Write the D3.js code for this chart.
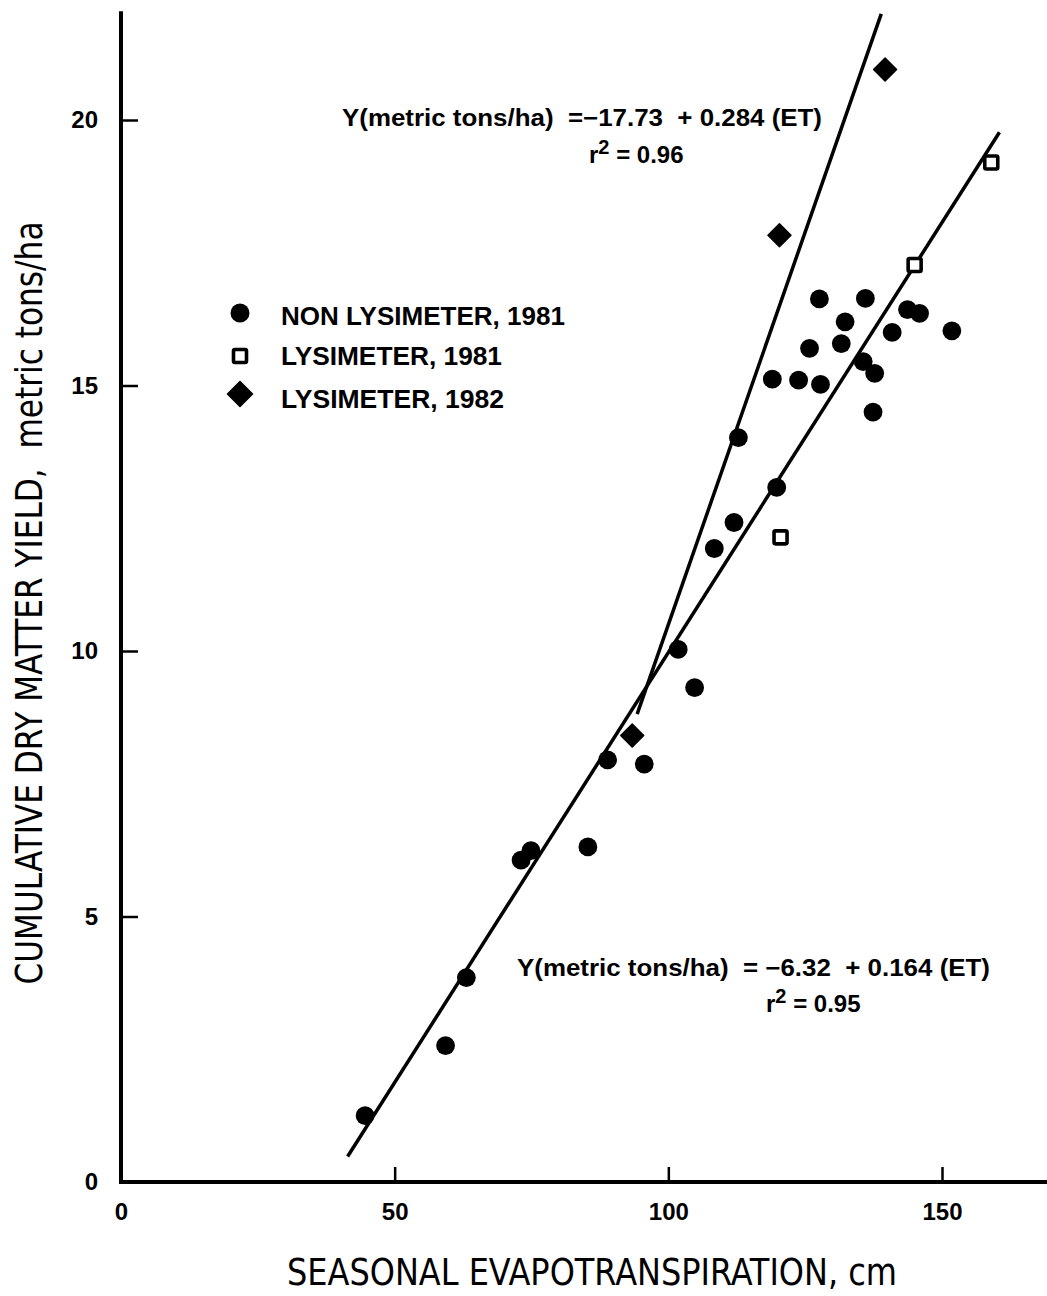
<!DOCTYPE html>
<html>
<head>
<meta charset="utf-8">
<script src="https://cdn.jsdelivr.net/npm/d3@7"></script>
<style>
  body { margin: 0; background: #fff; }
  svg { display: block; }
  text { font-family: "Liberation Sans", Arial, sans-serif; fill: #000; }
</style>
</head>
<body>
<script>
// non lysimeter, 1981 (filled circles)
const nonLysET    = [44.6, 59.3, 63.1, 73.1, 74.9, 85.3, 88.9, 95.6, 101.8, 104.8, 108.4, 112.0, 112.8, 119.8, 119.0, 123.8, 125.8, 127.6, 127.8, 131.6, 132.3, 136.0, 135.6, 137.7, 137.4, 140.9, 143.7, 145.9, 151.8];
const nonLysYield = [1.25, 2.57, 3.85, 6.06, 6.24, 6.31, 7.95, 7.87, 10.03, 9.31, 11.93, 12.42, 14.02, 13.08, 15.12, 15.10, 15.70, 16.63, 15.02, 15.79, 16.20, 16.64, 15.45, 15.23, 14.50, 16.00, 16.43, 16.36, 16.03];

// lysimeter, 1981 (open squares)
const lys81ET    = [120.5, 145.0, 159.0];
const lys81Yield = [12.14, 17.27, 19.20];

// lysimeter, 1982 (filled diamonds)
const lys82ET    = [93.4, 120.3, 139.6];
const lys82Yield = [8.41, 17.83, 20.95];

// fitted lines, end points as drawn
const fit82ET    = [94.3, 138.9];
const fit82Yield = [8.81, 22.0];
const fit81ET    = [41.4, 160.5];
const fit81Yield = [0.48, 19.77];

const xTicks = [0, 50, 100, 150];
const yTicks = [0, 5, 10, 15, 20];
const axisEnd = {x: 169.3, y: 22.05};

const legendLabels = ["NON LYSIMETER, 1981", "LYSIMETER, 1981", "LYSIMETER, 1982"];
const legendWidths = [284, 221, 223];

const width = 1047, height = 1296;

const svg = d3.select("body").append("svg")
    .attr("width", width)
    .attr("height", height);

const x = d3.scaleLinear().domain([0, 150]).range([121, 942]);
const y = d3.scaleLinear().domain([0, 20]).range([1182, 120]);

// axes (ticks point inward)
const gx = svg.append("g")
    .attr("transform", `translate(0,${y(0)})`)
    .call(d3.axisBottom(x).tickValues(xTicks).tickFormat(d3.format("d"))
      .tickSizeInner(-15).tickSizeOuter(0).tickPadding(21));
gx.select(".domain").remove();
gx.selectAll(".tick line").attr("stroke", "#000").attr("stroke-width", 2.5);
gx.selectAll(".tick text")
    .attr("font-size", 24).attr("font-weight", "bold")
    .attr("font-family", "Liberation Sans, Arial, sans-serif");

const gy = svg.append("g")
    .attr("transform", `translate(${x(0)},0)`)
    .call(d3.axisLeft(y).tickValues(yTicks).tickFormat(d3.format("d"))
      .tickSizeInner(-17).tickSizeOuter(0).tickPadding(23));
gy.select(".domain").remove();
gy.selectAll(".tick line").attr("stroke", "#000").attr("stroke-width", 2.5);
gy.selectAll(".tick text")
    .attr("font-size", 24).attr("font-weight", "bold")
    .attr("font-family", "Liberation Sans, Arial, sans-serif");

// axis lines
svg.append("line")
    .attr("x1", x(0)).attr("x2", x(0))
    .attr("y1", y(0) + 2).attr("y2", y(axisEnd.y))
    .attr("stroke", "#000").attr("stroke-width", 4);
svg.append("line")
    .attr("x1", x(0)).attr("x2", x(axisEnd.x))
    .attr("y1", y(0)).attr("y2", y(0))
    .attr("stroke", "#000").attr("stroke-width", 4);

// fit lines
const line = d3.line().x(d => x(d[0])).y(d => y(d[1]));
[[fit82ET, fit82Yield], [fit81ET, fit81Yield]].forEach(([xs, ys]) => {
  svg.append("path")
      .datum(d3.zip(xs, ys))
      .attr("fill", "none")
      .attr("stroke", "#000")
      .attr("stroke-width", 3.5)
      .attr("d", line);
});

// points
svg.append("g").selectAll("circle")
  .data(d3.zip(nonLysET, nonLysYield))
  .join("circle")
    .attr("cx", d => x(d[0]))
    .attr("cy", d => y(d[1]))
    .attr("r", 9.4)
    .attr("fill", "#000");

const sq = 13;
svg.append("g").selectAll("rect")
  .data(d3.zip(lys81ET, lys81Yield))
  .join("rect")
    .attr("x", d => x(d[0]) - sq / 2)
    .attr("y", d => y(d[1]) - sq / 2)
    .attr("width", sq).attr("height", sq)
    .attr("rx", 1.5)
    .attr("fill", "#fff")
    .attr("stroke", "#000")
    .attr("stroke-width", 3.6);

const diamond = r => `M0,${-r}L${r},0L0,${r}L${-r},0Z`;
svg.append("g").selectAll("path")
  .data(d3.zip(lys82ET, lys82Yield))
  .join("path")
    .attr("transform", d => `translate(${x(d[0])},${y(d[1])})`)
    .attr("d", diamond(11.5))
    .attr("fill", "#000")
    .attr("stroke", "#000")
    .attr("stroke-width", 1.5)
    .attr("stroke-linejoin", "round");

// legend
const legend = svg.append("g").attr("transform", "translate(240,313)");
const rowY = [0, 43, 81];
legend.append("circle").attr("cx", 0).attr("cy", rowY[0]).attr("r", 9.5).attr("fill", "#000");
legend.append("rect").attr("x", -6.5).attr("y", rowY[1] - 6.5).attr("width", 13).attr("height", 13)
    .attr("rx", 1.5).attr("fill", "#fff").attr("stroke", "#000").attr("stroke-width", 3.6);
legend.append("path").attr("transform", `translate(0,${rowY[2]})`).attr("d", diamond(12.5))
    .attr("fill", "#000").attr("stroke", "#000").attr("stroke-width", 1.5).attr("stroke-linejoin", "round");
legend.selectAll("text.lab")
  .data(legendLabels)
  .join("text")
    .attr("class", "lab")
    .attr("x", 41)
    .attr("y", (d, i) => [12, 52, 95][i])
    .attr("font-size", 26)
    .attr("font-weight", "bold")
    .attr("textLength", (d, i) => legendWidths[i])
    .attr("lengthAdjust", "spacingAndGlyphs")
    .text(d => d);

// regression labels
function equation(left, base, eq, rX, rBase, r2, len) {
  svg.append("text")
      .attr("x", left).attr("y", base)
      .attr("font-size", 24).attr("font-weight", "bold")
      .attr("textLength", len).attr("lengthAdjust", "spacingAndGlyphs")
      .style("white-space", "pre")
      .text(eq);
  const t = svg.append("text")
      .attr("x", rX).attr("y", rBase)
      .attr("font-size", 24).attr("font-weight", "bold")
      .style("white-space", "pre");
  t.append("tspan").text("r");
  t.append("tspan").attr("dy", -9).attr("font-size", 20).text("2");
  t.append("tspan").attr("dy", 9).text(" = " + r2);
}
equation(342, 126, "Y(metric tons/ha)  =\u221217.73  + 0.284 (ET)", 589, 163, "0.96", 480);
equation(517, 976, "Y(metric tons/ha)  = \u22126.32  + 0.164 (ET)", 766, 1012, "0.95", 473);

// axis titles
svg.append("text")
    .attr("x", 592).attr("y", 1285)
    .attr("text-anchor", "middle")
    .attr("font-size", 38)
    .attr("textLength", 610).attr("lengthAdjust", "spacingAndGlyphs")
    .style("font-family", "'DejaVu Sans Condensed', 'DejaVu Sans', sans-serif")
    .style("font-stretch", "condensed")
    .text("SEASONAL EVAPOTRANSPIRATION, cm");

svg.append("text")
    .attr("transform", "translate(42,603) rotate(-90)")
    .attr("text-anchor", "middle")
    .attr("font-size", 38)
    .attr("textLength", 763).attr("lengthAdjust", "spacingAndGlyphs")
    .style("font-family", "'DejaVu Sans Condensed', 'DejaVu Sans', sans-serif")
    .style("font-stretch", "condensed")
    .style("white-space", "pre")
    .text("CUMULATIVE DRY MATTER YIELD,  metric tons/ha");
</script>
</body>
</html>
